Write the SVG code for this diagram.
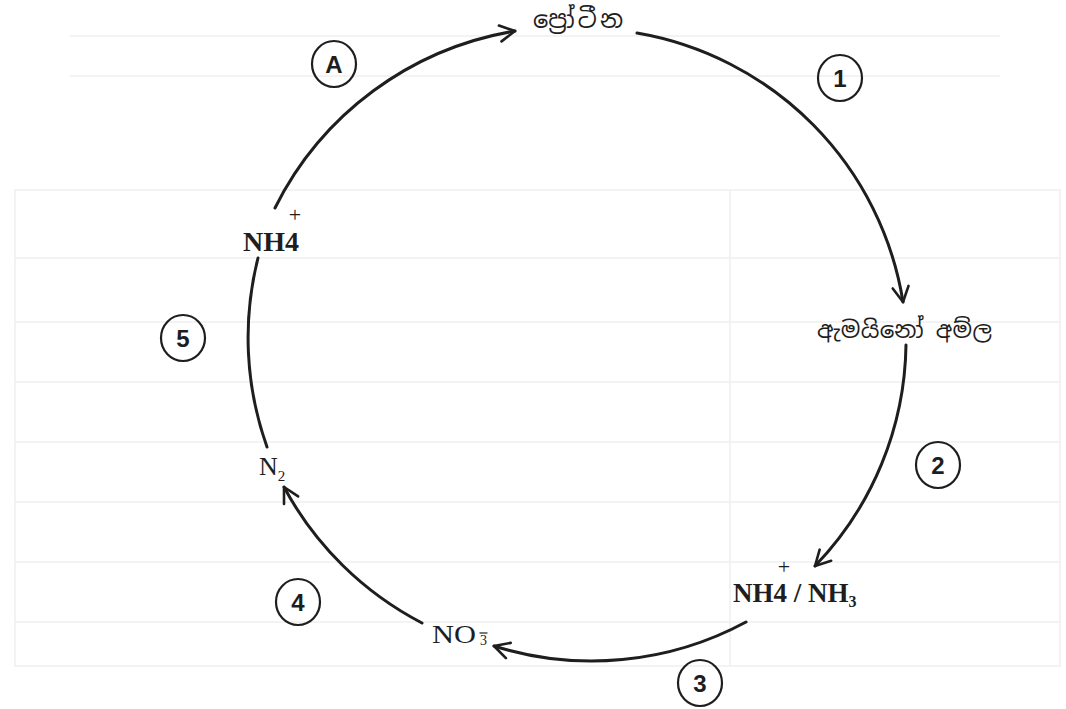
<svg xmlns="http://www.w3.org/2000/svg" width="1066" height="709" viewBox="0 0 1066 709">
<style>
.arc{fill:none;stroke:#1e1e1e;stroke-width:3;stroke-linecap:round}
.bg{fill:none;stroke:#efefef;stroke-width:1.5}
.circ{fill:none;stroke:#1e1e1e;stroke-width:2.2}
.num{font-family:"Liberation Sans",Arial,sans-serif;font-weight:bold;font-size:24px;fill:#1e1e1e;text-anchor:middle}
.si{font-family:"Noto Sans Sinhala","Noto Serif Sinhala","Iskoola Pota","Noto Sans",sans-serif;fill:#1e1e1e}
.chem{font-family:"Liberation Serif","Times New Roman",serif;fill:#1e1e1e}
.b{font-weight:bold}
</style>
<defs>
<marker id="arr" markerUnits="userSpaceOnUse" markerWidth="22" markerHeight="22" refX="17" refY="10" orient="auto" viewBox="0 0 22 20">
<path d="M2,2 L17,10 L2,18" fill="none" stroke="#1e1e1e" stroke-width="2.6" stroke-linecap="round" stroke-linejoin="round"/>
</marker>
</defs>
<rect width="1066" height="709" fill="#ffffff"/>
<g id="background">
<line class="bg" x1="70" y1="36" x2="1000" y2="36"/>
<line class="bg" x1="70" y1="76" x2="1000" y2="76"/>
<rect class="bg" x="15" y="190" width="1045" height="476"/>
<line class="bg" x1="730" y1="190" x2="730" y2="666"/>
<line class="bg" x1="15" y1="258" x2="1060" y2="258"/>
<line class="bg" x1="15" y1="322" x2="1060" y2="322"/>
<line class="bg" x1="15" y1="382" x2="1060" y2="382"/>
<line class="bg" x1="15" y1="442" x2="1060" y2="442"/>
<line class="bg" x1="15" y1="502" x2="1060" y2="502"/>
<line class="bg" x1="15" y1="562" x2="1060" y2="562"/>
<line class="bg" x1="15" y1="622" x2="1060" y2="622"/>
</g>
<g id="connectors">
<path class="arc" d="M275,208 A328,325 0 0 1 515,31" marker-end="url(#arr)"/>
<path class="arc" d="M637,33 A325,325 0 0 1 903,302" marker-end="url(#arr)"/>
<path class="arc" d="M906,345 A325,325 0 0 1 815,566" marker-end="url(#arr)"/>
<path class="arc" d="M746,622 A325,325 0 0 1 494,646" marker-end="url(#arr)"/>
<path class="arc" d="M422,623 A330,325 0 0 1 284,487" marker-end="url(#arr)"/>
<path class="arc" d="M267,447 A335,330 0 0 1 258,258"/>
</g>
<g id="node-protein"><text class="si" x="533" y="28" font-size="24" textLength="90">ප්‍රෝටීන</text></g>
<g id="node-amino"><text class="si" x="817" y="338" font-size="23" textLength="175">ඇමයිනෝ අම්ල</text></g>
<g id="node-nh4-top">
<text class="chem b" x="243" y="251" font-size="28">NH4</text>
<text class="chem" x="295" y="222" font-size="22" text-anchor="middle">+</text>
</g>
<g id="node-n2">
<text class="chem" x="259" y="475" font-size="26">N<tspan font-size="15" dy="6">2</tspan></text>
</g>
<g id="node-nh4-nh3">
<text class="chem b" x="733" y="602" font-size="27">NH4 / NH<tspan font-size="16" dy="5">3</tspan></text>
<text class="chem" x="784" y="574" font-size="22" text-anchor="middle">+</text>
</g>
<g id="node-no3">
<text class="chem" x="432" y="643" font-size="26" textLength="44" lengthAdjust="spacingAndGlyphs">NO</text>
<text class="chem" x="480" y="645" font-size="14">3</text>
<line x1="479.5" y1="633" x2="487.5" y2="633" stroke="#1e1e1e" stroke-width="1.2"/>
</g>
<g id="label-A"><ellipse class="circ" cx="334" cy="64" rx="22" ry="23"/><text class="num" x="334" y="73">A</text></g>
<g id="label-1"><ellipse class="circ" cx="840" cy="78" rx="22" ry="23"/><text class="num" x="840" y="87">1</text></g>
<g id="label-5"><ellipse class="circ" cx="183" cy="338" rx="22" ry="23"/><text class="num" x="183" y="347">5</text></g>
<g id="label-2"><ellipse class="circ" cx="938" cy="465" rx="22" ry="23"/><text class="num" x="938" y="474">2</text></g>
<g id="label-4"><ellipse class="circ" cx="298" cy="602" rx="22" ry="23"/><text class="num" x="298" y="611">4</text></g>
<g id="label-3"><ellipse class="circ" cx="700" cy="683" rx="22" ry="23"/><text class="num" x="700" y="692">3</text></g>
</svg>
